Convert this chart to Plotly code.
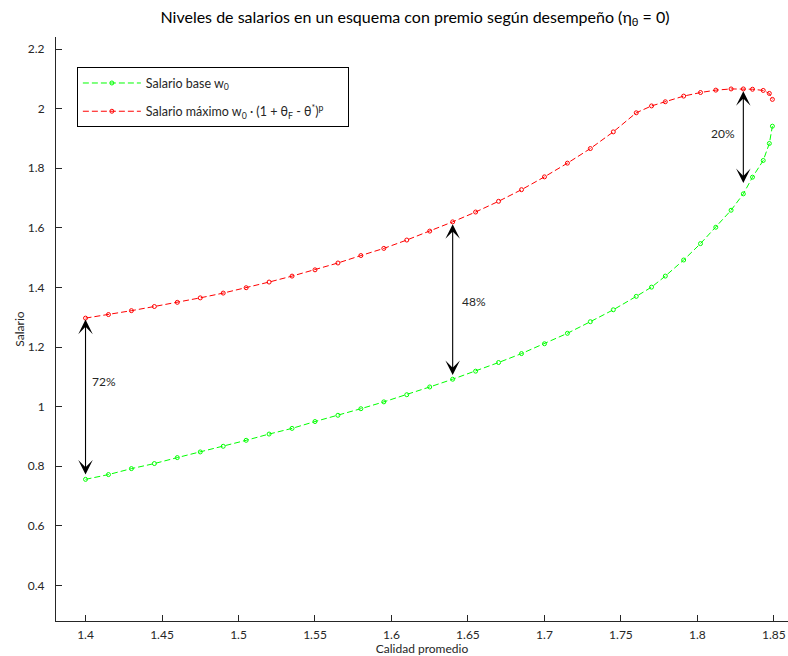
import plotly.graph_objects as go

# ---- data ----
calidad = [1.400, 1.415, 1.430, 1.445, 1.460, 1.475, 1.490, 1.505, 1.520, 1.535,
           1.550, 1.565, 1.580, 1.595, 1.610, 1.625, 1.640, 1.655, 1.670, 1.685,
           1.700, 1.715, 1.730, 1.745, 1.760, 1.770, 1.779, 1.791, 1.802, 1.812,
           1.822, 1.830, 1.836, 1.843, 1.847, 1.849]

salario_base = [0.756, 0.772, 0.792, 0.809, 0.829, 0.848, 0.867, 0.887, 0.908, 0.927,
                0.950, 0.971, 0.993, 1.016, 1.040, 1.066, 1.092, 1.119, 1.148, 1.178,
                1.211, 1.246, 1.285, 1.325, 1.370, 1.401, 1.438, 1.492, 1.547, 1.602,
                1.659, 1.714, 1.770, 1.826, 1.883, 1.941]

salario_max = [1.297, 1.309, 1.322, 1.336, 1.350, 1.365, 1.381, 1.399, 1.418, 1.438,
               1.459, 1.482, 1.507, 1.531, 1.559, 1.589, 1.620, 1.653, 1.689, 1.728,
               1.771, 1.817, 1.866, 1.922, 1.986, 2.009, 2.023, 2.042, 2.054, 2.062,
               2.066, 2.066, 2.065, 2.061, 2.051, 2.031]

arrow_x = [1.40, 1.64, 1.83]
arrow_top = [1.297, 1.617, 2.063]
arrow_bottom = [0.772, 1.106, 1.750]
arrow_labels = ["72%", "48%", "20%"]
label_x = [1.412, 1.654, 1.817]
label_y = [1.084, 1.353, 1.918]

x_ticks = [1.40, 1.45, 1.50, 1.55, 1.60, 1.65, 1.70, 1.75, 1.80, 1.85]
x_ticktext = ["1.4", "1.45", "1.5", "1.55", "1.6", "1.65", "1.7", "1.75", "1.8", "1.85"]
y_ticks = [0.4, 0.6, 0.8, 1.0, 1.2, 1.4, 1.6, 1.8, 2.0, 2.2]
y_ticktext = ["0.4", "0.6", "0.8", "1", "1.2", "1.4", "1.6", "1.8", "2", "2.2"]

FONT = "Lato"
TXT = "#262626"
PAD = "\u00a0" * 6

fig = go.Figure()
fig.add_trace(go.Scatter(
    x=calidad, y=salario_base, mode="lines+markers",
    name="Salario base w<sub>0</sub>", legendgroup="a",
    line=dict(color="#00ff00", width=1, dash="6px,3px"),
    marker=dict(symbol="circle-open", size=4, color="#00ff00", line=dict(width=1)),
))
fig.add_trace(go.Scatter(
    x=calidad, y=salario_max, mode="lines+markers",
    name="Salario máximo w<sub>0</sub> · (1 + θ<sub>F</sub> - θ<sup>*</sup>)<sup>p</sup>" + PAD,
    legendgroup="b",
    line=dict(color="#ff0000", width=1, dash="6px,3px"),
    marker=dict(symbol="circle-open", size=4, color="#ff0000", line=dict(width=1)),
))

annotations = []
for xa, yt, yb in zip(arrow_x, arrow_top, arrow_bottom):
    annotations.append(dict(
        x=xa, y=yb, ax=xa, ay=yt, xref="x", yref="y", axref="x", ayref="y",
        text="", showarrow=True, arrowhead=3, startarrowhead=3,
        arrowside="end+start", arrowsize=2.2, startarrowsize=2.2,
        arrowwidth=1.1, arrowcolor="#000000", standoff=0, startstandoff=0,
    ))
for lx, ly, lt in zip(label_x, label_y, arrow_labels):
    annotations.append(dict(
        x=lx, y=ly, xref="x", yref="y", text=lt, showarrow=False,
        font=dict(family=FONT, size=12, color=TXT), xanchor="center", yanchor="middle",
    ))

fig.update_layout(
    width=788, height=656,
    margin=dict(l=56, r=0, t=37, b=35),
    paper_bgcolor="white", plot_bgcolor="white",
    font=dict(family=FONT, size=12, color=TXT),
    title=dict(
        text="Niveles de salarios en un esquema con premio según desempeño (η<sub>θ</sub> = 0)",
        x=0.4904, xref="paper", xanchor="center", y=1 - 17 / 656, yref="container", yanchor="middle",
        font=dict(family=FONT, size=16, color="#000000"),
    ),
    legend=dict(
        x=0.0285, y=0.948, xanchor="left", yanchor="top",
        bgcolor="white", bordercolor="#000000", borderwidth=1,
        font=dict(family=FONT, size=12.5, color=TXT),
        tracegroupgap=9, itemwidth=58,
    ),
    showlegend=True,
    annotations=annotations,
)
fig.update_xaxes(
    range=[1.3807, 1.8592], tickvals=x_ticks, ticktext=x_ticktext,
    showline=True, linecolor=TXT, linewidth=1, ticks="inside", ticklen=6, tickcolor=TXT,
    showgrid=False, zeroline=False, ticklabelstandoff=3,
    title=dict(text="Calidad promedio", font=dict(family=FONT, size=12, color=TXT), standoff=5),
)
fig.update_yaxes(
    range=[0.2807, 2.2403], tickvals=y_ticks, ticktext=y_ticktext,
    showline=True, linecolor=TXT, linewidth=1, ticks="inside", ticklen=6, tickcolor=TXT,
    showgrid=False, zeroline=False, ticklabelstandoff=8,
    title=dict(text="Salario", font=dict(family=FONT, size=12, color=TXT), standoff=0),
)

fig.write_html("out.html")
